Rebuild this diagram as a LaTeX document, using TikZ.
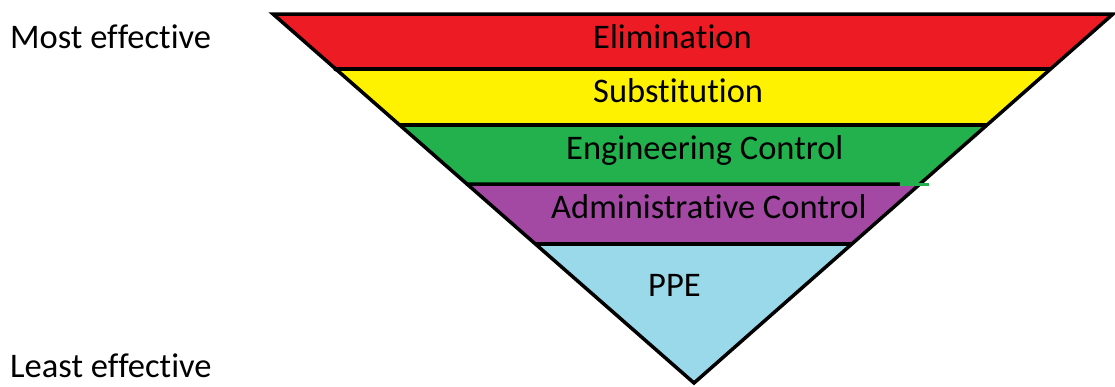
\documentclass[tikz,border=0pt]{standalone}
\usepackage{fontspec}
\setmainfont[RawFeature={-liga;-clig;-calt;-dlig;-rlig}]{Carlito}
\usetikzlibrary{calc}
\definecolor{elimred}{HTML}{ED1C24}
\definecolor{subsyellow}{HTML}{FFF200}
\definecolor{enggreen}{HTML}{22B14C}
\definecolor{adminpurple}{HTML}{A349A4}
\definecolor{ppeblue}{HTML}{99D9EA}
% split a letter pair so no ligature is formed
\newcommand{\nolig}{\kern0pt{}}
\tikzset{
  band/.style={draw=black, line width=3.5pt, line join=miter},
  label/.style={anchor=base west, inner sep=0pt, font=\fontsize{34.5}{40}\selectfont, text=black},
}
\begin{document}
\begin{tikzpicture}[x=1pt, y=-1pt]
  \useasboundingbox (0,0) rectangle (1115,386);
  % corners of the inverted triangle
  \coordinate (tl) at (273,14);
  \coordinate (tr) at (1113,14);
  \coordinate (apex) at (694,383);
  % band boundaries along both slanted edges
  \coordinate (l1) at ($(tl)!0.149!(apex)$);
  \coordinate (r1) at ($(tr)!0.149!(apex)$);
  \coordinate (l2) at ($(tl)!0.3008!(apex)$);
  \coordinate (r2) at ($(tr)!0.3008!(apex)$);
  \coordinate (l3) at ($(tl)!0.4607!(apex)$);
  \coordinate (r3) at ($(tr)!0.4607!(apex)$);
  \coordinate (l4) at ($(tl)!0.6233!(apex)$);
  \coordinate (r4) at ($(tr)!0.6233!(apex)$);
  % coloured bands
  \fill[elimred] (tl) -- (tr) -- (r1) -- (l1) -- cycle;
  \fill[subsyellow] (l1) -- (r1) -- (r2) -- (l2) -- cycle;
  \fill[enggreen] (l2) -- (r2) -- (r3) -- (l3) -- cycle;
  \fill[adminpurple] (l3) -- (r3) -- (r4) -- (l4) -- cycle;
  \fill[ppeblue] (l4) -- (r4) -- (apex) -- cycle;
  % outline and dividers
  \draw[band] (tl) -- (tr) -- (apex) -- cycle;
  \draw[band] (l1) -- (r1);
  \draw[band] (l2) -- (r2);
  \draw[band] ($(l3)+(-1,0)$) -- (900,184);
  \draw[band] (l4) -- (r4);
  \draw[enggreen, line width=3pt] (900,184) -- (929,184);
  \fill[black] (l1) circle (2.4);
  % band labels
  \node[label] (elim) at (593,48) {Elimina\nolig tion};
  \node[label] (subs) at (593,102) {Substi\nolig tu\nolig tion};
  \node[label] (eng) at (566,159) {Engineering Control};
  \node[label] (admin) at (551,218) {Administra\nolig tive Control};
  \node[label] (ppe) at (648,296) {PPE};
  % side labels
  \node[label] (most) at (10,48) {Most ef\nolig fec\nolig tive};
  \node[label] (least) at (10,377) {Least ef\nolig fec\nolig tive};
\end{tikzpicture}
\end{document}
